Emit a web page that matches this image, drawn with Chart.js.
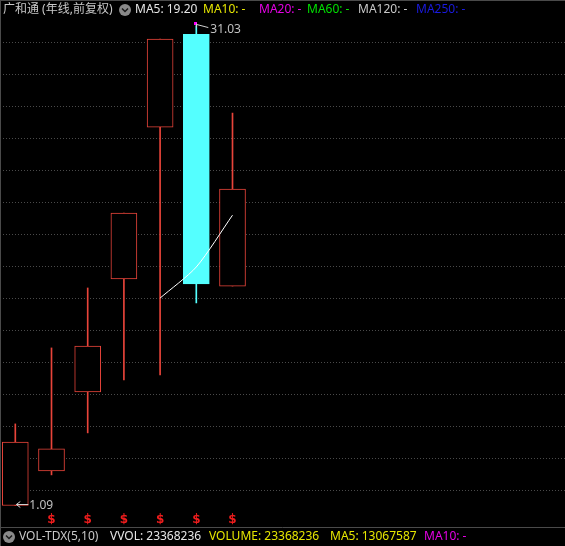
<!DOCTYPE html>
<html><head><meta charset="utf-8">
<script src="https://cdn.jsdelivr.net/npm/chart.js@4.4.1/dist/chart.umd.min.js"></script>
<style>
html,body{margin:0;padding:0;background:#000;overflow:hidden}
#wrap{position:relative;width:565px;height:546px}
canvas{display:block;background:#000}
</style></head>
<body><div id="wrap"><canvas id="c" width="565" height="546"></canvas></div>
<script>
// ---- data (yearly candles, forward-adjusted) ----
const categories = ['2017','2018','2019','2020','2021','2022','2023'];
const openV  = [1.09, 3.25, 8.17, 15.22, 24.69, 30.49, 14.78];
const closeV = [5.05, 4.62, 11.04, 19.33, 30.18, 14.91, 20.83];
const highV  = [6.18, 10.92, 14.66, 19.33, 30.18, 31.03, 25.57];
const lowV   = [1.09, 3.00, 5.62, 8.92, 9.23, 13.72, 14.78];
const ma5V   = [null, null, null, null, 14.03, 15.97, 19.20];
const signalIdx = [1, 2, 3, 4, 5, 6];
const gridValues = [2,4,6,8,10,12,14,16,18,20,22,24,26,28,30];
const highLabel = '31.03';
const lowLabel = '1.09';
const topLegend = [
  {t:'广和通 (年线,前复权)', c:'#c8c8c8'},
  {t:'MA5: 19.20', c:'#e6e6e6'},
  {t:'MA10: -', c:'#e6e600'},
  {t:'MA20: -', c:'#e600e6'},
  {t:'MA60: -', c:'#00e000'},
  {t:'MA120: -', c:'#c8c8c8'},
  {t:'MA250: -', c:'#1a1ae0'}
];
const bottomLegend = [
  {t:'VOL-TDX(5,10)', c:'#c8c8c8'},
  {t:'VVOL: 23368236', c:'#e6e6e6'},
  {t:'VOLUME: 23368236', c:'#e6e600'},
  {t:'MA5: 13067587', c:'#e6e600'},
  {t:'MA10: -', c:'#e600e6'}
];

const RED = '#e8443a', CYAN = '#54ffff';
const isUp = categories.map((_, i) => closeV[i] >= openV[i]);

const bodyData = categories.map((_, i) => ({x: i, y: [openV[i], closeV[i]]}));
const wickData = categories.map((_, i) => ({x: i, y: [lowV[i], highV[i]]}));
const maData = categories.map((_, i) => ({x: i, y: ma5V[i]})).filter(p => p.y !== null);

const FONT = "'Noto Sans','Noto Sans CJK SC',sans-serif";

function drawIcon(ctx, cx, cy) {
  ctx.save();
  ctx.fillStyle = '#8a8a8a';
  ctx.beginPath(); ctx.arc(cx, cy, 6, 0, Math.PI * 2); ctx.fill();
  ctx.strokeStyle = '#1a1a1a'; ctx.lineWidth = 1.5;
  ctx.beginPath(); ctx.moveTo(cx - 3, cy - 1.5); ctx.lineTo(cx, cy + 1.5); ctx.lineTo(cx + 3, cy - 1.5); ctx.stroke();
  ctx.restore();
}

const decor = {
  id: 'decor',
  beforeDraw(chart) {
    const ctx = chart.ctx;
    ctx.save();
    ctx.fillStyle = '#000';
    ctx.fillRect(0, 0, chart.width, chart.height);
    ctx.restore();
  },
  afterDraw(chart) {
    const ctx = chart.ctx;
    const xs = chart.scales.x, ys = chart.scales.y;
    ctx.save();
    // frame lines
    ctx.strokeStyle = '#4a4a4a'; ctx.lineWidth = 1;
    ctx.beginPath();
    ctx.moveTo(0, 0.5); ctx.lineTo(565, 0.5);
    ctx.moveTo(0.5, 0); ctx.lineTo(0.5, 546);
    ctx.moveTo(0, 527.5); ctx.lineTo(565, 527.5);
    ctx.stroke();

    // high marker on the highest candle
    let hi = 0, lo = 0;
    highV.forEach((v, i) => { if (v > highV[hi]) hi = i; });
    lowV.forEach((v, i) => { if (v < lowV[lo]) lo = i; });
    const hx = xs.getPixelForValue(hi), hy = ys.getPixelForValue(highV[hi]);
    ctx.fillStyle = '#ff00ff';
    ctx.fillRect(Math.round(hx) - 2, Math.round(hy) - 4, 3, 3);
    ctx.strokeStyle = '#d0d0d0'; ctx.lineWidth = 1;
    ctx.beginPath();
    ctx.moveTo(Math.round(hx) + 0.5, hy - 2);
    ctx.lineTo(Math.round(hx) + 0.5, hy + 2);
    ctx.moveTo(Math.round(hx) + 1, hy - 1);
    ctx.lineTo(hx + 12, hy + 2);
    ctx.stroke();
    ctx.font = '12px ' + FONT;
    ctx.fillStyle = '#c0c0c0';
    ctx.textBaseline = 'middle'; ctx.textAlign = 'left';
    ctx.fillText(highLabel, hx + 14, hy + 4);

    // low marker
    const lx = xs.getPixelForValue(lo), ly = ys.getPixelForValue(lowV[lo]);
    ctx.strokeStyle = '#d0d0d0';
    ctx.beginPath();
    ctx.moveTo(lx + 13, Math.round(ly) - 0.5); ctx.lineTo(lx + 1, Math.round(ly) - 0.5);
    ctx.moveTo(lx + 5, Math.round(ly) - 3.5); ctx.lineTo(lx + 1, Math.round(ly) - 0.5); ctx.lineTo(lx + 5, Math.round(ly) + 2.5);
    ctx.stroke();
    ctx.fillText(lowLabel, lx + 14, ly);

    // signal markers
    ctx.fillStyle = '#ee1c1c';
    ctx.font = 'bold 12px DejaVu Sans';
    ctx.textAlign = 'center';
    signalIdx.forEach(i => {
      ctx.fillText('$', xs.getPixelForValue(i), 520);
    });

    // top legend
    ctx.textAlign = 'left';
    ctx.font = '12px ' + FONT;
    const topX = [3, 135, 203, 259, 307, 358, 416];
    topLegend.forEach((s, i) => { ctx.fillStyle = s.c; ctx.fillText(s.t, topX[i], 10); });
    drawIcon(ctx, 125, 10);
    // bottom legend
    const botX = [19, 110, 209, 330, 424];
    bottomLegend.forEach((s, i) => { ctx.fillStyle = s.c; ctx.fillText(s.t, botX[i], 537); });
    drawIcon(ctx, 9, 537);
    ctx.restore();
  }
};

new Chart(document.getElementById('c'), {
  type: 'bar',
  data: {
    labels: categories,
    datasets: [
      {
        type: 'line', label: 'MA5', data: maData, order: 0,
        borderColor: '#ffffff', borderWidth: 1, pointRadius: 0, tension: 0.25, fill: false
      },
      {
        label: 'body', data: bodyData, order: 1, grouped: false,
        barThickness: 26,
        backgroundColor: isUp.map(u => u ? '#000000' : CYAN),
        borderColor: isUp.map(u => u ? RED : CYAN),
        borderWidth: 1, borderSkipped: false
      },
      {
        label: 'wick', data: wickData, order: 2, grouped: false,
        barThickness: 1,
        backgroundColor: isUp.map(u => u ? RED : CYAN),
        borderWidth: 0
      }
    ]
  },
  options: {
    responsive: false, animation: false,
    layout: {padding: {top: 2, bottom: 7, left: 0, right: 0}},
    plugins: {legend: {display: false}, tooltip: {enabled: false}},
    scales: {
      x: {type: 'linear', min: -0.4227, max: 15.185, offset: false, display: false},
      y: {
        type: 'linear', min: -1, max: 32.5,
        afterBuildTicks: s => { s.ticks = gridValues.map(v => ({value: v})); },
        ticks: {display: false},
        grid: {color: '#4a4a4a', lineWidth: 1, drawTicks: false, tickLength: 0},
        border: {display: false, dash: [1, 2]}
      }
    }
  },
  plugins: [decor]
});
</script></body></html>
